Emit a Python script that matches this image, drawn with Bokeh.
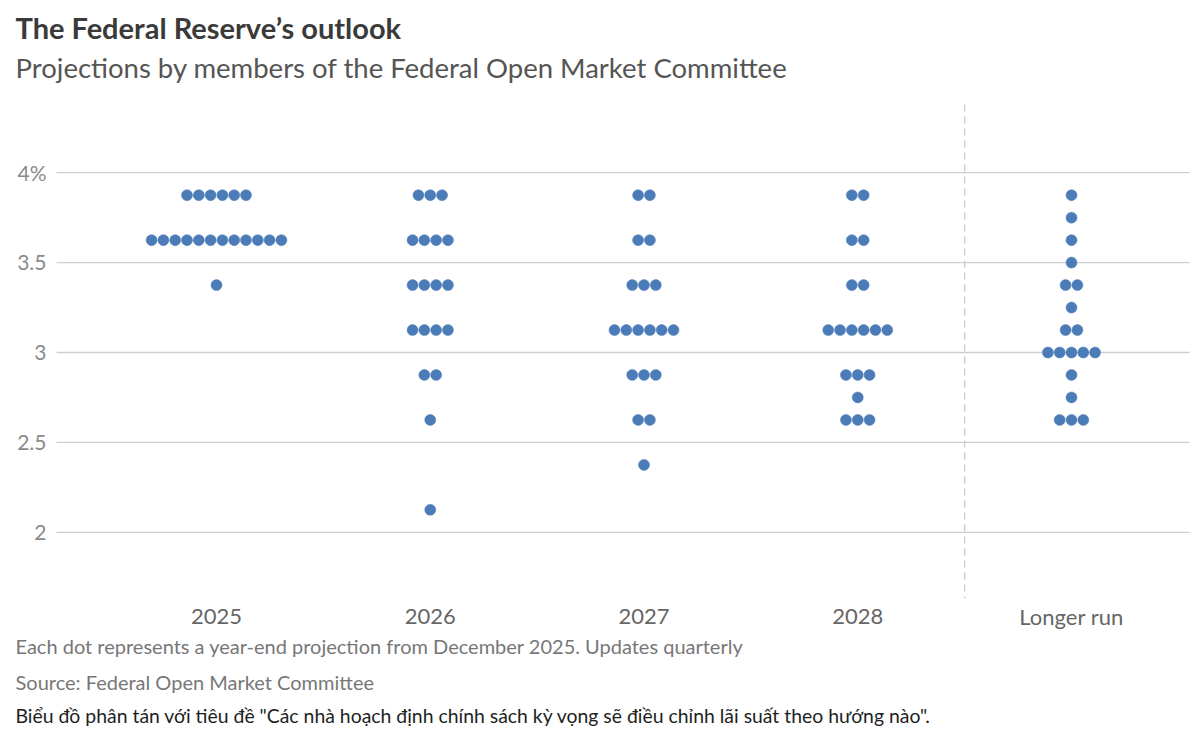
from bokeh.plotting import figure
from bokeh.models import Range1d
from bokeh.core.properties import value
from bokeh.embed import file_html
from bokeh.resources import INLINE

# ---------------- data ----------------
categories = ["2025", "2026", "2027", "2028", "Longer run"]

rates_2025 = [3.875, 3.625, 3.375]
counts_2025 = [6, 12, 1]

rates_2026 = [3.875, 3.625, 3.375, 3.125, 2.875, 2.625, 2.125]
counts_2026 = [3, 4, 4, 4, 2, 1, 1]

rates_2027 = [3.875, 3.625, 3.375, 3.125, 2.875, 2.625, 2.375]
counts_2027 = [2, 2, 3, 6, 3, 2, 1]

rates_2028 = [3.875, 3.625, 3.375, 3.125, 2.875, 2.75, 2.625]
counts_2028 = [2, 2, 2, 6, 3, 1, 3]

rates_long = [3.875, 3.75, 3.625, 3.5, 3.375, 3.25, 3.125, 3.0, 2.875, 2.75, 2.625]
counts_long = [1, 1, 1, 1, 2, 1, 2, 5, 1, 1, 3]

y_ticks = [4.0, 3.5, 3.0, 2.5, 2.0]
y_tick_labels = ["4%", "3.5", "3", "2.5", "2"]

title = "The Federal Reserve\u2019s outlook"
subtitle = "Projections by members of the Federal Open Market Committee"
note = "Each dot represents a year-end projection from December 2025. Updates quarterly"
source = "Source: Federal Open Market Committee"
desc = "Bi\u1ec3u \u0111\u1ed3 ph\u00e2n t\u00e1n v\u1edbi ti\u00eau \u0111\u1ec1 \"C\u00e1c nh\u00e0 ho\u1ea1ch \u0111\u1ecbnh ch\u00ednh s\u00e1ch k\u1ef3 v\u1ecdng s\u1ebd \u0111i\u1ec1u ch\u1ec9nh l\u00e3i su\u1ea5t theo h\u01b0\u1edbng n\u00e0o\"."

# ---------------- layout ----------------
W, H = 1200, 731
X0_PX, X_STEP = 216.0, 213.75      # px of category 0, px per category
Y4_PX, Y_STEP = 172.2, 179.8       # px (from top) of 4%, px per 1 pct pt

def dx(px):
    return (px - X0_PX) / X_STEP

def dy(py):
    return 4.0 - (py - Y4_PX) / Y_STEP

FONT = "Lato"
DOT_COLOR = "#4b7cb8"
DOT_GAP = 11.8 / X_STEP

p = figure(width=W, height=H, output_backend="svg", toolbar_location=None,
           x_range=Range1d(dx(0), dx(W)), y_range=Range1d(dy(H), dy(0)),
           x_axis_location=None, y_axis_location=None, min_border=0,
           outline_line_color=None, background_fill_color="white",
           border_fill_color="white")
p.grid.visible = False

# gridlines
p.segment(x0=[dx(56)] * len(y_ticks), x1=[dx(1189)] * len(y_ticks),
          y0=y_ticks, y1=y_ticks, line_color="#cfcfcf", line_width=1.3)

# y labels
p.text(x=[dx(46)] * len(y_ticks), y=y_ticks, text=y_tick_labels,
       text_font=value(FONT), text_font_size="21px", text_color="#8a8a8a",
       text_align="right", text_baseline="middle")

# divider before longer run
p.segment(x0=[3.5], x1=[3.5], y0=[dy(104)], y1=[dy(598)],
          line_color="#cccccc", line_width=1.3, line_dash="7 5")

# dots
xs, ys = [], []
groups = [(rates_2025, counts_2025), (rates_2026, counts_2026),
          (rates_2027, counts_2027), (rates_2028, counts_2028),
          (rates_long, counts_long)]
for i, (rates, counts) in enumerate(groups):
    for r, n in zip(rates, counts):
        for k in range(n):
            xs.append(i + (k - (n - 1) / 2) * DOT_GAP)
            ys.append(r)
p.scatter(x=xs, y=ys, size=11, fill_color=DOT_COLOR, line_color=DOT_COLOR,
          line_width=0.5)

# category labels
p.text(x=list(range(len(categories))), y=[dy(616)] * len(categories), text=categories,
       text_font=value(FONT), text_font_size="22px", text_color="#666666",
       text_align="center", text_baseline="middle")

# titles and footer
def txt(s, px, py, size, color, style="normal"):
    p.text(x=[dx(px)], y=[dy(py)], text=[s], text_font=value(FONT),
           text_font_size=size, text_color=color, text_font_style=style,
           text_align="left", text_baseline="middle")

txt(title, 15, 27, "29px", "#3a3a3a", "bold")
txt(subtitle, 15, 67, "27.5px", "#555555")
txt(note, 15, 645, "20px", "#777777")
txt(source, 15, 681, "20px", "#777777")
txt(desc, 15, 715, "19.4px", "#1e1e1e")

open("out.html", "w").write(file_html(p, INLINE))
